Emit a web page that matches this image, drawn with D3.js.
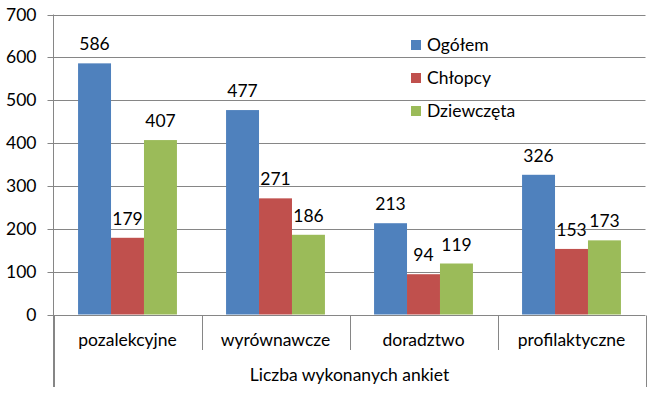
<!DOCTYPE html>
<html>
<head>
<meta charset="utf-8">
<script src="https://cdn.jsdelivr.net/npm/d3@7"></script>
<style>
  body { margin: 0; background: #fff; }
  text { font-family: Lato, "Open Sans", sans-serif; fill: #000; }
</style>
</head>
<body>
<div id="chart"></div>
<script>
// chart data
const categories = ["pozalekcyjne", "wyrównawcze", "doradztwo", "profilaktyczne"];
const seriesNames = ["Ogółem", "Chłopcy", "Dziewczęta"];
const ogolem = [586, 477, 213, 326];
const chlopcy = [179, 271, 94, 153];
const dziewczeta = [407, 186, 119, 173];
const yTicks = [0, 100, 200, 300, 400, 500, 600, 700];
const axisTitle = "Liczba wykonanych ankiet";

const colors = ["#4F81BD", "#C0504D", "#9BBB59"];
const seriesValues = [ogolem, chlopcy, dziewczeta];

const width = 656, height = 394;
const margin = {left: 53.5, right: 10.5, top: 14.5, bottom: 79.5};
const gridColor = "#868686";
const fontSize = 17.5;

const svg = d3.select("#chart").append("svg")
  .attr("width", width)
  .attr("height", height);

const x = d3.scaleBand()
  .domain(categories)
  .range([margin.left, width - margin.right])
  .paddingInner(0)
  .paddingOuter(0);

// inner band for the 3 bars
const xInner = d3.scaleBand()
  .domain(seriesNames)
  .range([0, x.bandwidth()])
  .paddingOuter(0.745)
  .paddingInner(0);

const y = d3.scaleLinear()
  .domain([0, 700])
  .range([height - margin.bottom, margin.top]);

// gridlines
svg.append("g")
  .selectAll("line")
  .data(yTicks)
  .join("line")
  .attr("x1", margin.left - 6)
  .attr("x2", width - margin.right)
  .attr("y1", d => Math.round(y(d)) + 0.5)
  .attr("y2", d => Math.round(y(d)) + 0.5)
  .attr("stroke", gridColor)
  .attr("stroke-width", 1);

// y labels
svg.append("g")
  .selectAll("text")
  .data(yTicks)
  .join("text")
  .attr("x", margin.left - 17)
  .attr("y", d => y(d))
  .attr("dy", "0.35em")
  .attr("text-anchor", "end")
  .attr("font-size", fontSize)
  .text(d => d);

// bars
const groups = svg.append("g")
  .selectAll("g")
  .data(categories)
  .join("g")
  .attr("transform", c => `translate(${x(c)},0)`);

groups.selectAll("rect")
  .data((c, i) => seriesNames.map((s, j) => ({s, v: seriesValues[j][i], j})))
  .join("rect")
  .attr("x", d => xInner(d.s))
  .attr("width", xInner.bandwidth())
  .attr("y", d => y(d.v))
  .attr("height", d => y(0) - y(d.v))
  .attr("fill", d => colors[d.j]);

groups.selectAll("text.lbl")
  .data((c, i) => seriesNames.map((s, j) => ({s, v: seriesValues[j][i], j})))
  .join("text")
  .attr("class", "lbl")
  .attr("x", d => xInner(d.s) + xInner.bandwidth() / 2)
  .attr("y", d => y(d.v) - 13)
  .attr("text-anchor", "middle")
  .attr("font-size", fontSize)
  .text(d => d.v);

// y axis line
const y0 = Math.round(y(0)) + 0.5;
svg.append("line")
  .attr("x1", margin.left).attr("x2", margin.left)
  .attr("y1", margin.top).attr("y2", 387)
  .attr("stroke", gridColor);

// category separators
const bounds = categories.map(c => x(c)).concat([width - margin.right]);
svg.append("g")
  .selectAll("line")
  .data(bounds)
  .join("line")
  .attr("x1", d => Math.round(d) + 0.5)
  .attr("x2", d => Math.round(d) + 0.5)
  .attr("y1", y0)
  .attr("y2", (d, i) => (i === 0 || i === bounds.length - 1) ? 387 : 350)
  .attr("stroke", gridColor);

// category labels
svg.append("g")
  .selectAll("text")
  .data(categories)
  .join("text")
  .attr("x", c => x(c) + x.bandwidth() / 2)
  .attr("y", 340)
  .attr("dy", "0.35em")
  .attr("text-anchor", "middle")
  .attr("font-size", fontSize)
  .text(c => c);

svg.append("text")
  .attr("x", (margin.left + width - margin.right) / 2)
  .attr("y", 375)
  .attr("dy", "0.35em")
  .attr("text-anchor", "middle")
  .attr("font-size", fontSize)
  .text(axisTitle);

// legend
const legend = svg.append("g")
  .selectAll("g")
  .data(seriesNames)
  .join("g")
  .attr("transform", (d, i) => `translate(411,${45 + i * 33})`);

legend.append("rect")
  .attr("x", 0).attr("y", -5)
  .attr("width", 10).attr("height", 10)
  .attr("fill", (d, i) => colors[i]);

legend.append("text")
  .attr("x", 16)
  .attr("y", 0)
  .attr("dy", "0.35em")
  .attr("font-size", fontSize)
  .text(d => d);
</script>
</body>
</html>
